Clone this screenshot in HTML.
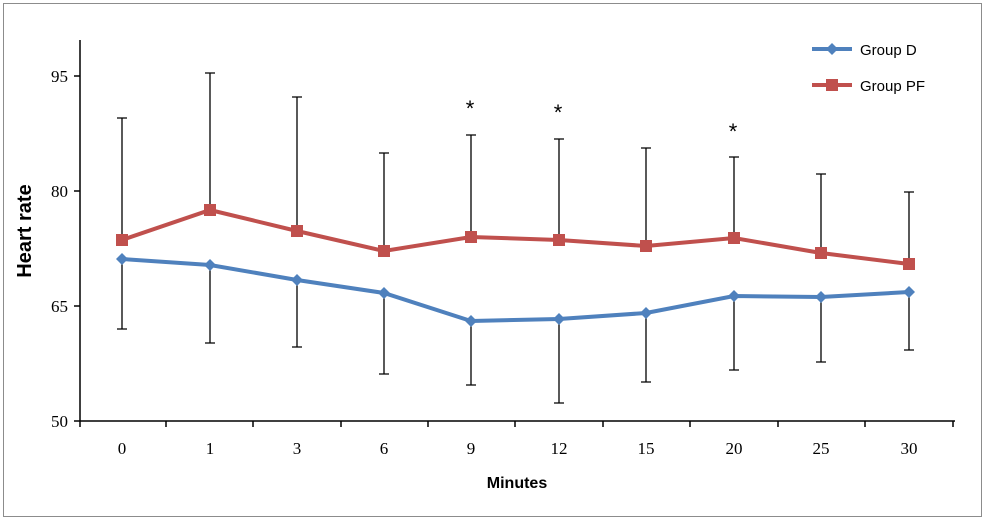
<!DOCTYPE html>
<html><head><meta charset="utf-8"><style>
html,body{margin:0;padding:0;background:#fff;}
svg{display:block;font-family:"Liberation Sans",sans-serif;}
</style></head><body>
<svg width="986" height="521" viewBox="0 0 986 521" xmlns="http://www.w3.org/2000/svg">
<rect x="3.5" y="3.5" width="978" height="513" fill="#fff" stroke="#8c8c8c" stroke-width="1"/>
<!-- axes -->
<line x1="80" y1="40" x2="80" y2="421" stroke="#000" stroke-width="1.5"/>
<line x1="80" y1="421" x2="955" y2="421" stroke="#000" stroke-width="1.5"/>
<g stroke="#000" stroke-width="1.5">
<line x1="74" y1="76" x2="80" y2="76"/><line x1="74" y1="191" x2="80" y2="191"/>
<line x1="74" y1="306" x2="80" y2="306"/><line x1="74" y1="421" x2="80" y2="421"/>
<line x1="166" y1="421" x2="166" y2="427"/><line x1="253" y1="421" x2="253" y2="427"/>
<line x1="341" y1="421" x2="341" y2="427"/><line x1="428" y1="421" x2="428" y2="427"/>
<line x1="515" y1="421" x2="515" y2="427"/><line x1="603" y1="421" x2="603" y2="427"/>
<line x1="690" y1="421" x2="690" y2="427"/><line x1="778" y1="421" x2="778" y2="427"/>
<line x1="865" y1="421" x2="865" y2="427"/><line x1="953" y1="421" x2="953" y2="427"/>
<line x1="80" y1="421" x2="80" y2="427"/>
</g>
<g font-family="Liberation Serif,serif" font-size="17" text-anchor="end">
<text x="68" y="82">95</text><text x="68" y="197">80</text><text x="68" y="312">65</text><text x="68" y="427">50</text>
</g>
<g font-family="Liberation Serif,serif" font-size="17" text-anchor="middle">
<text x="122" y="454">0</text><text x="210" y="454">1</text><text x="297" y="454">3</text><text x="384" y="454">6</text><text x="471" y="454">9</text><text x="559" y="454">12</text><text x="646" y="454">15</text><text x="734" y="454">20</text><text x="821" y="454">25</text><text x="909" y="454">30</text>
</g>
<text x="517" y="488" font-size="16" font-weight="bold" text-anchor="middle">Minutes</text>
<text transform="translate(31,231) rotate(-90)" font-size="20" font-weight="bold" text-anchor="middle">Heart rate</text>
<!-- error bars PF (up) -->
<g stroke="#000" stroke-width="1.3">
<path d="M122 240V118M117 118h10 M210 210V73M205 73h10 M297 231V97M292 97h10 M384 251V153M379 153h10 M471 237V135M466 135h10 M559 240V139M554 139h10 M646 246V148M641 148h10 M734 238V157M729 157h10 M821 253V174M816 174h10 M909 264V192M904 192h10"/>
<path d="M122 259V329M117 329h10 M210 265V343M205 343h10 M297 280V347M292 347h10 M384 293V374M379 374h10 M471 321V385M466 385h10 M559 319V403M554 403h10 M646 313V382M641 382h10 M734 296V370M729 370h10 M821 297V362M816 362h10 M909 292V350M904 350h10"/>
</g>
<polyline points="122,240 210,210 297,231 384,251 471,237 559,240 646,246 734,238 821,253 909,264" fill="none" stroke="#c0504d" stroke-width="4"/>
<g fill="#c0504d">
<rect x="116" y="234" width="12" height="12"/><rect x="204" y="204" width="12" height="12"/><rect x="291" y="225" width="12" height="12"/><rect x="378" y="245" width="12" height="12"/><rect x="465" y="231" width="12" height="12"/><rect x="553" y="234" width="12" height="12"/><rect x="640" y="240" width="12" height="12"/><rect x="728" y="232" width="12" height="12"/><rect x="815" y="247" width="12" height="12"/><rect x="903" y="258" width="12" height="12"/>
</g>
<polyline points="122,259 210,265 297,280 384,293 471,321 559,319 646,313 734,296 821,297 909,292" fill="none" stroke="#4f81bd" stroke-width="4"/>
<g fill="#4f81bd">
<path d="M122 253l6 6-6 6-6-6z"/><path d="M210 259l6 6-6 6-6-6z"/><path d="M297 274l6 6-6 6-6-6z"/><path d="M384 287l6 6-6 6-6-6z"/><path d="M471 315l6 6-6 6-6-6z"/><path d="M559 313l6 6-6 6-6-6z"/><path d="M646 307l6 6-6 6-6-6z"/><path d="M734 290l6 6-6 6-6-6z"/><path d="M821 291l6 6-6 6-6-6z"/><path d="M909 286l6 6-6 6-6-6z"/>
</g>
<g font-size="22" text-anchor="middle">
<text x="470" y="116">*</text><text x="558" y="120">*</text><text x="733" y="139">*</text>
</g>
<!-- legend -->
<line x1="812" y1="49" x2="852" y2="49" stroke="#4f81bd" stroke-width="4"/>
<path d="M832 43l6 6-6 6-6-6z" fill="#4f81bd"/>
<text x="860" y="55" font-size="15">Group D</text>
<line x1="812" y1="85" x2="852" y2="85" stroke="#c0504d" stroke-width="4"/>
<rect x="826" y="79" width="12" height="12" fill="#c0504d"/>
<text x="860" y="91" font-size="15">Group PF</text>
</svg>
</body></html>
